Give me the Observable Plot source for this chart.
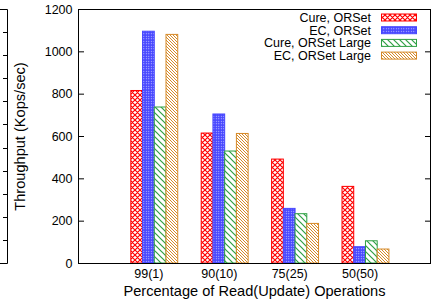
<!DOCTYPE html>
<html><head><meta charset="utf-8">
<script src="https://cdn.jsdelivr.net/npm/d3@7"></script>
<script src="https://cdn.jsdelivr.net/npm/@observablehq/plot@0.6"></script>
<style>
body{margin:0;background:#fff}
#chart{position:relative;width:433px;height:307px}
#chart svg{position:absolute;left:0;top:0}
#chart svg text{font-family:"Liberation Sans",Arial,Helvetica,sans-serif;font-size:12.5px}
#chart svg g[aria-label="x-axis label"] text,
#chart svg g[aria-label="y-axis label"] text{font-size:14.6px}
</style>
</head><body>
<svg width="0" height="0" style="position:absolute">
<defs>
<pattern id="pRed" patternUnits="userSpaceOnUse" width="5" height="5">
 <rect width="5" height="5" fill="#fff"/>
 <path d="M0,0L5,5M5,0L0,5M-1,4L1,6M4,-1L6,1M-1,1L1,-1M4,6L6,4" stroke="#ff0000" stroke-width="1.2"/>
</pattern>
<pattern id="pBlue" patternUnits="userSpaceOnUse" width="2.5" height="2.5">
 <rect width="2.5" height="2.5" fill="#4646ff"/>
 <rect x="0.8" y="0.8" width="1" height="1" fill="#d8d8ff"/>
</pattern>
<pattern id="pGreen" patternUnits="userSpaceOnUse" width="6" height="6">
 <rect width="6" height="6" fill="#fff"/>
 <path d="M0,0L6,6M-1,5L1,7M5,-1L7,1" stroke="#2ea043" stroke-width="1.2"/>
</pattern>
<pattern id="pOrange" patternUnits="userSpaceOnUse" width="3" height="3">
 <rect width="3" height="3" fill="#fff"/>
 <path d="M0,0L3,3M-1,2L1,4M2,-1L4,1" stroke="#d68a28" stroke-width="1"/>
</pattern>
</defs>
</svg>
<div id="chart"></div>
<script>
// ---- data ----
const categories = ["99(1)", "90(10)", "75(25)", "50(50)"];
const seriesNames = ["Cure, ORSet", "EC, ORSet", "Cure, ORSet Large", "EC, ORSet Large"];
const cureORSet = [815, 614, 491, 362];
const ecORSet = [1095, 704, 258, 77];
const cureORSetLarge = [737, 529, 233, 105];
const ecORSetLarge = [1080, 612, 187, 66];
const yTicks = [0, 200, 400, 600, 800, 1000, 1200];

const seriesValues = [cureORSet, ecORSet, cureORSetLarge, ecORSetLarge];
const fills = ["url(#pRed)", "url(#pBlue)", "url(#pGreen)", "url(#pOrange)"];
const strokes = ["#ff0000", "#4646ff", "#2ea043", "#d68a28"];

const rows = seriesValues.map((vals, si) =>
  vals.map((v, gi) => ({gi, si, value: v, cat: categories[gi], series: seriesNames[si]})));

const W = 433, H = 307;
const mL = 78, mR = 3, mT = 9, mB = 44;
const font = "Liberation Sans, Arial, Helvetica, sans-serif";

const plot = Plot.plot({
  width: W, height: H,
  marginLeft: mL, marginRight: mR, marginTop: mT, marginBottom: mB,
  style: {fontFamily: font, fontSize: "12.5px", color: "#000", background: "transparent"},
  x: {type: "linear", domain: [-1, 4]},
  y: {domain: [0, 1200]},
  marks: [
    ...rows.map((r, si) => Plot.rect(r, {
      x1: d => d.gi + (d.si - 1.5) / 6,
      x2: d => d.gi + (d.si - 0.5) / 6,
      y1: 0, y2: "value",
      fill: fills[si], stroke: strokes[si], strokeWidth: 1
    })),
    Plot.axisY(yTicks, {anchor: "left", tickSize: 0, tickPadding: 6, tickFormat: d => String(d), label: "Throughput (Kops/sec)", labelAnchor: "center", labelArrow: "none", labelOffset: 64}),
    Plot.axisY(yTicks, {anchor: "left", tickSize: -6, tickFormat: () => "", label: null}),
    Plot.axisY(yTicks, {anchor: "right", tickSize: -6, tickFormat: () => "", label: null}),
    Plot.axisX([0, 1, 2, 3], {anchor: "bottom", tickSize: 0, tickPadding: 6, tickFormat: i => categories[i], label: "Percentage of Read(Update) Operations", labelAnchor: "center", labelArrow: "none", labelOffset: 32}),
    Plot.frame({stroke: "#000", strokeWidth: 1})
  ]
});
document.getElementById("chart").appendChild(plot);

// legend (inside top right)
const svg = d3.select(plot);
const lg = svg.append("g");
seriesNames.forEach((name, i) => {
  const cy = 17.5 + i * 12.7;
  lg.append("text").attr("x", 371).attr("y", cy).attr("dy", "0.36em")
    .attr("text-anchor", "end").attr("fill", "#000").text(name);
  lg.append("rect").attr("x", 381.5).attr("y", cy - 3.5).attr("width", 35).attr("height", 7)
    .attr("fill", fills[i]).attr("stroke", strokes[i]).attr("stroke-width", 1);
});

// remnant of the neighbouring chart's right border at far left
const remnantTicks = d3.range(1, 11);
const ry = d3.scaleLinear().domain([0, 11]).range([H - mB, mT]);
const rg = svg.append("g").attr("stroke", "#000").attr("stroke-width", 1).attr("fill", "none");
rg.append("path").attr("d", `M0,${ry(11) + 0.5}H7.5V${ry(0) + 0.5}H0`);
rg.selectAll("line").data(remnantTicks).join("line")
  .attr("x1", 3).attr("x2", 7.5)
  .attr("y1", d => Math.round(ry(d)) + 0.5).attr("y2", d => Math.round(ry(d)) + 0.5);
</script>
</body></html>
